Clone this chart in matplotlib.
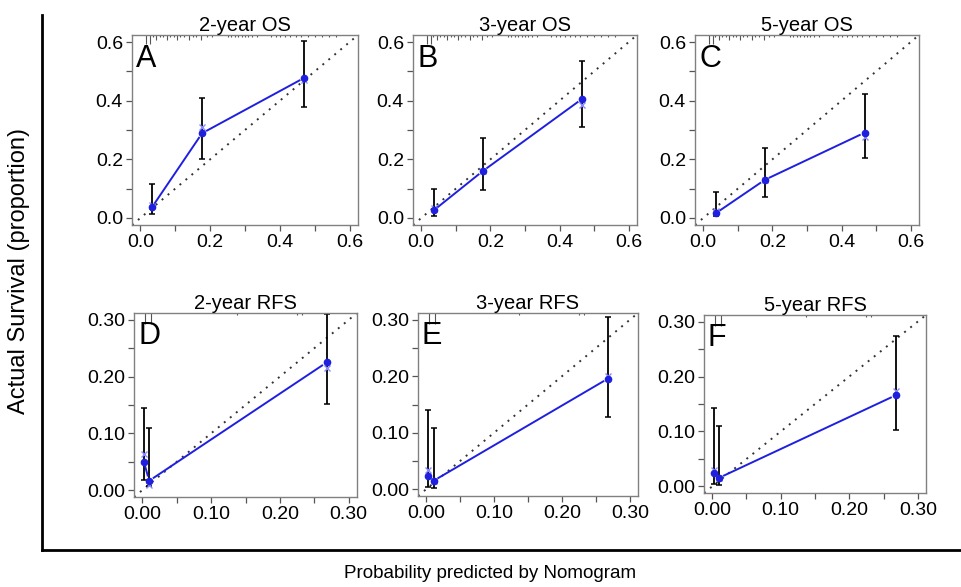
import matplotlib
matplotlib.use("Agg")
import matplotlib.pyplot as plt
from matplotlib.ticker import MultipleLocator, FormatStrFormatter
import numpy as np

plt.rcParams['font.family'] = ['Liberation Sans', 'DejaVu Sans']

# ---------------- data ----------------
titles = ["2-year OS", "3-year OS", "5-year OS", "2-year RFS", "3-year RFS", "5-year RFS"]
letters = ["A", "B", "C", "D", "E", "F"]

# OS panels: predicted, observed, CI low, CI high, bias-corrected
a_pred = [0.033, 0.177, 0.470]
a_obs = [0.036, 0.289, 0.478]
a_lo = [0.014, 0.200, 0.380]
a_hi = [0.116, 0.410, 0.605]
a_bc = [0.045, 0.310, 0.472]

b_pred = [0.036, 0.178, 0.465]
b_obs = [0.026, 0.160, 0.406]
b_lo = [0.008, 0.095, 0.311]
b_hi = [0.100, 0.274, 0.537]
b_bc = [0.034, 0.160, 0.385]

c_pred = [0.036, 0.178, 0.467]
c_obs = [0.016, 0.130, 0.291]
c_lo = [0.005, 0.071, 0.203]
c_hi = [0.088, 0.240, 0.424]
c_bc = [0.025, 0.130, 0.277]

# RFS panels
d_pred = [0.0024, 0.010, 0.268]
d_obs = [0.050, 0.0165, 0.225]
d_lo = [0.018, 0.008, 0.152]
d_hi = [0.145, 0.110, 0.310]
d_bc = [0.064, 0.009, 0.215]

e_pred = [0.002, 0.011, 0.268]
e_obs = [0.024, 0.015, 0.196]
e_lo = [0.004, 0.002, 0.127]
e_hi = [0.141, 0.108, 0.305]
e_bc = [0.034, 0.015, 0.200]

f_pred = [0.0024, 0.010, 0.268]
f_obs = [0.0245, 0.0156, 0.166]
f_lo = [0.0036, 0.0024, 0.102]
f_hi = [0.1425, 0.110, 0.273]
f_bc = [0.029, 0.0156, 0.174]

# rug of predicted probabilities (top of panels) and their relative counts
os_rug = [0.017, 0.027, 0.035, 0.045, 0.055, 0.065, 0.075, 0.085, 0.095, 0.105,
          0.115, 0.125, 0.140, 0.150, 0.160, 0.175, 0.190, 0.205, 0.250, 0.260,
          0.270, 0.280, 0.290, 0.300, 0.310, 0.320, 0.335, 0.375, 0.390, 0.400,
          0.415, 0.430, 0.445, 0.460, 0.480, 0.500, 0.520, 0.540, 0.560]
os_rug_n = [4, 4, 1, 2, 1, 1, 2, 1, 1, 2, 1, 1, 2, 1, 1, 2, 1, 1, 1, 1,
            1, 1, 1, 1, 1, 1, 1, 1, 1, 1, 1, 1, 1, 1, 1, 1, 1, 1, 1]
rfs_rug = [0.004, 0.0127, 0.137, 0.225, 0.232]
rfs_rug_n = [5, 5, 1, 1, 1]

os_ticks = [0.0, 0.2, 0.4, 0.6]
rfs_ticks = [0.00, 0.10, 0.20, 0.30]

panels = [
    (a_pred, a_obs, a_lo, a_hi, a_bc),
    (b_pred, b_obs, b_lo, b_hi, b_bc),
    (c_pred, c_obs, c_lo, c_hi, c_bc),
    (d_pred, d_obs, d_lo, d_hi, d_bc),
    (e_pred, e_obs, e_lo, e_hi, e_bc),
    (f_pred, f_obs, f_lo, f_hi, f_bc),
]

# ---------------- layout ----------------
W, H = 962, 587
fig = plt.figure(figsize=(W / 100, H / 100), dpi=100)

# axes boxes in pixels: left, right, top, bottom
boxes = [
    (132, 358, 35, 225), (413, 637, 35, 225), (695, 919, 35, 225),
    (134, 357, 313, 497), (418, 638, 313, 496), (704, 926, 315, 493),
]

# outer frame
bg = fig.add_axes([42 / W, 37 / H, 1 - 42 / W, 535 / H])
bg.set_zorder(-5)
bg.patch.set_visible(False)
for s in ["top", "right"]:
    bg.spines[s].set_visible(False)
for s in ["left", "bottom"]:
    bg.spines[s].set_linewidth(2.0)
    bg.spines[s].set_color("black")
bg.set_xticks([])
bg.set_yticks([])

fig.text(19 / W, 1 - 271 / H, "Actual Survival (proportion)", rotation=90,
         ha="center", va="center", fontsize=17)
fig.text(490 / W, 1 - 573 / H, "Probability predicted by Nomogram",
         ha="center", va="center", fontsize=13.5)

BLUE = "#1f1fe0"
LIGHT = "#8a8aff"


def gapped_line(ax, xs, ys, gap_px=5.0, **kw):
    pts = ax.transData.transform(np.column_stack([xs, ys]))
    inv = ax.transData.inverted()
    for i in range(len(pts) - 1):
        p0, p1 = pts[i], pts[i + 1]
        d = p1 - p0
        L = np.hypot(*d)
        if L <= 2 * gap_px:
            continue
        u = d / L
        q0 = inv.transform(p0 + u * gap_px)
        q1 = inv.transform(p1 - u * gap_px)
        ax.plot([q0[0], q1[0]], [q0[1], q1[1]], **kw)


for i, ((pred, obs, lo, hi, bc), box) in enumerate(zip(panels, boxes)):
    l, r, t, b = box
    ax = fig.add_axes([l / W, 1 - b / H, (r - l) / W, (b - t) / H])
    top_row = i < 3
    if top_row:
        lim = (-0.024, 0.624)
        ticks = os_ticks
        minor = 0.1
        fmt = "%.1f"
        rug, rug_n = os_rug, os_rug_n
    else:
        lim = (-0.012, 0.312)
        ticks = rfs_ticks
        minor = 0.05
        fmt = "%.2f"
        rug, rug_n = rfs_rug, rfs_rug_n
    ax.set_xlim(*lim)
    ax.set_ylim(*lim)
    ax.set_xticks(ticks)
    ax.set_yticks(ticks)
    ax.xaxis.set_minor_locator(MultipleLocator(minor))
    ax.yaxis.set_minor_locator(MultipleLocator(minor))
    ax.xaxis.set_major_formatter(FormatStrFormatter(fmt))
    ax.yaxis.set_major_formatter(FormatStrFormatter(fmt))
    ax.tick_params(which="both", direction="out", length=4.5, width=0.9,
                   color="#555555", labelsize=14, pad=2)
    for s in ax.spines.values():
        s.set_color("#808080")
        s.set_linewidth(1.0)

    # ideal line
    ax.plot(lim, lim, linestyle=(0, (1, 3)), color="#333333", lw=1.4, zorder=1)

    # rug
    ax.vlines(rug, [1 - 0.012 * n for n in rug_n], 1.0,
              transform=ax.get_xaxis_transform(), color="#555555", lw=0.8,
              clip_on=False)

    # error bars
    ax.errorbar(pred, obs, yerr=[np.array(obs) - np.array(lo),
                                 np.array(hi) - np.array(obs)],
                fmt="none", ecolor="black", elinewidth=1.3, capsize=2.2,
                capthick=1.1, zorder=2)
    # bias-corrected marks
    ax.plot(pred, bc, linestyle="none", marker="x", ms=5, mew=1.0,
            color=LIGHT, zorder=3)
    # observed line with gaps (type = "b") and points
    gapped_line(ax, pred, obs, gap_px=5.5, color=BLUE, lw=1.4, zorder=3)
    ax.plot(pred, obs, linestyle="none", marker="o", ms=4.5, color=BLUE,
            zorder=4)

    ax.set_title(titles[i], fontsize=14.5, pad=3)
    ax.text(0.018, 0.955, letters[i], transform=ax.transAxes, fontsize=22,
            ha="left", va="top")

fig.savefig("out.png", dpi=100)
